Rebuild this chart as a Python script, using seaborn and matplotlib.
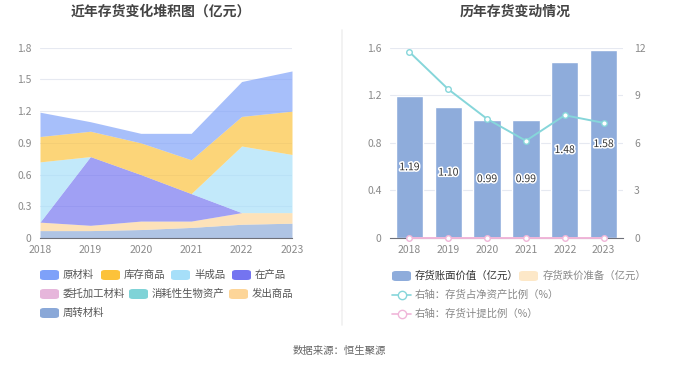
import numpy as np
import pandas as pd
import seaborn as sns
import matplotlib.pyplot as plt
from matplotlib.patches import FancyBboxPatch
from matplotlib.lines import Line2D
import matplotlib.patheffects as pe

sns.set_theme(style="white")
plt.rcParams['font.family'] = ['Noto Sans CJK SC', 'DejaVu Sans']

years = ['2018', '2019', '2020', '2021', '2022', '2023']

# 左图：存货构成（亿元）
yuancailiao = [0.23, 0.09, 0.09, 0.25, 0.33, 0.38]
kucun_shangpin = [0.24, 0.24, 0.30, 0.32, 0.28, 0.41]
banchengpin = [0.57, 0.0, 0.0, 0.0, 0.63, 0.55]
zaichanpin = [0.0, 0.65, 0.44, 0.26, 0.0, 0.0]
weituo_jiagong = [0.0, 0.0, 0.0, 0.0, 0.0, 0.0]
xiaohaoxing = [0.0, 0.0, 0.0, 0.0, 0.0, 0.0]
fachu_shangpin = [0.08, 0.05, 0.08, 0.06, 0.11, 0.10]
zhouzhuan_cailiao = [0.07, 0.07, 0.08, 0.10, 0.13, 0.14]

stack_names = ['原材料', '库存商品', '半成品', '在产品', '委托加工材料', '消耗性生物资产', '发出商品', '周转材料']
stack_colors = ['#7ea1f9', '#fcc23a', '#a6dff9', '#7474f0', '#e6b6db', '#7fd3d7', '#fdd598', '#8aa8d8']

# 右图
book_value = [1.19, 1.10, 0.99, 0.99, 1.48, 1.58]
provision = [0.0, 0.0, 0.0, 0.0, 0.0, 0.0]
ratio_net_assets = [11.73, 9.38, 7.51, 6.13, 7.74, 7.26]
provision_ratio = [0.0, 0.0, 0.0, 0.0, 0.0, 0.0]

tick_color = '#8a8a8a'
grid_color = '#e6e9f1'
axis_color = '#6e7079'

fig = plt.figure(figsize=(6.8, 3.67), dpi=100)

# ---------- 左图：堆积面积 ----------
ax1 = fig.add_axes([40 / 680, 1 - 238 / 367, 252 / 680, 190.3 / 367])
series = [yuancailiao, kucun_shangpin, banchengpin, zaichanpin,
          weituo_jiagong, xiaohaoxing, fachu_shangpin, zhouzhuan_cailiao]
x = np.arange(len(years))
ax1.stackplot(x, *series[::-1], colors=stack_colors[::-1], alpha=0.68, linewidth=0)
ax1.set_xlim(0, 5)
ax1.set_ylim(0, 1.8)
ax1.set_yticks([0, 0.3, 0.6, 0.9, 1.2, 1.5, 1.8])
ax1.set_yticklabels(['0', '0.3', '0.6', '0.9', '1.2', '1.5', '1.8'])
ax1.set_xticks(x)
ax1.set_xticklabels(years)
ax1.yaxis.grid(True, color=grid_color, linewidth=0.8)
ax1.set_axisbelow(True)

# ---------- 右图：柱状 + 折线 ----------
ax2 = fig.add_axes([390 / 680, 1 - 238 / 367, 233 / 680, 190.3 / 367])
df = pd.DataFrame({'year': years, 'book': book_value})
sns.barplot(data=df, x='year', y='book', color='#8eacdb', width=0.7,
            saturation=1, ax=ax2, zorder=2)
for i, v in enumerate(book_value):
    ax2.text(i, v / 2, f'{v:.2f}', ha='center', va='center', fontsize=7.5,
             color='#333333',
             path_effects=[pe.withStroke(linewidth=2.2, foreground='white')], zorder=5)
ax2.set_xlim(-0.5, 5.5)
ax2.set_ylim(0, 1.6)
ax2.set_yticks([0, 0.4, 0.8, 1.2, 1.6])
ax2.set_yticklabels(['0', '0.4', '0.8', '1.2', '1.6'])
ax2.set_xlabel('')
ax2.set_ylabel('')
ax2.yaxis.grid(True, color=grid_color, linewidth=0.8)
ax2.set_axisbelow(True)

ax3 = ax2.twinx()
ldf = pd.DataFrame({'x': x, 'r1': ratio_net_assets, 'r2': provision_ratio})
sns.lineplot(data=ldf, x='x', y='r1', ax=ax3, color='#86d6da', linewidth=1.4,
             marker='o', markersize=4, markerfacecolor='white',
             markeredgecolor='#86d6da', markeredgewidth=1)
sns.lineplot(data=ldf, x='x', y='r2', ax=ax3, color='#f0b6d9', linewidth=1.4,
             marker='o', markersize=4, markerfacecolor='white',
             markeredgecolor='#f0b6d9', markeredgewidth=1, clip_on=False)
ax3.set_xlim(-0.5, 5.5)
ax3.set_ylim(0, 12)
ax3.set_yticks([0, 3, 6, 9, 12])
ax3.set_yticklabels(['0', '3', '6', '9', '12'])
ax3.set_xlabel('')
ax3.set_ylabel('')

for ax in (ax1, ax2, ax3):
    for s in ax.spines.values():
        s.set_visible(False)
    ax.tick_params(axis='both', labelsize=7.5, labelcolor=tick_color, length=0, pad=6)
for ax in (ax1, ax2):
    ax.spines['bottom'].set_visible(True)
    ax.spines['bottom'].set_color(axis_color)
    ax.spines['bottom'].set_linewidth(0.8)
    ax.tick_params(axis='x', length=3, color=axis_color, pad=2, direction='out')
ax3.tick_params(axis='y', pad=8)

# ---------- 标题、分隔线、来源 ----------
fig.text(161 / 680, 1 - 12 / 367, '近年存货变化堆积图（亿元）', ha='center', va='center',
         fontsize=10, fontweight='bold', color='#444444')
fig.text(515 / 680, 1 - 12 / 367, '历年存货变动情况', ha='center', va='center',
         fontsize=10, fontweight='bold', color='#444444')
fig.add_artist(Line2D([342 / 680, 342 / 680], [1 - 30 / 367, 1 - 325 / 367],
                      color='#f0f0f0', linewidth=1.2))
fig.text(339 / 680, 1 - 351 / 367, '数据来源：恒生聚源', ha='center', va='center',
         fontsize=7.5, color='#666666')

# ---------- 图例 ----------
def patch(xp, yp, color):
    w, h = 19 / 680, 10 / 367
    fig.add_artist(FancyBboxPatch((xp / 680, 1 - yp / 367 - h / 2), w, h,
                                  boxstyle='round,pad=0,rounding_size=0.006',
                                  transform=fig.transFigure, facecolor=color,
                                  edgecolor='none'))

left_legend = [(40, 275), (101, 275), (171, 275), (232, 275),
               (40, 294), (129, 294), (229, 294), (40, 313)]
for (xp, yp), name, c in zip(left_legend, stack_names, stack_colors):
    patch(xp, yp, c)
    fig.text((xp + 23) / 680, 1 - yp / 367, name, ha='left', va='center',
             fontsize=7.5, color='#555555')

patch(392, 276, '#8eacdb')
fig.text(415 / 680, 1 - 276 / 367, '存货账面价值（亿元）', ha='left', va='center',
         fontsize=7.5, color='#333333')
patch(519, 276, '#fde8c8')
fig.text(543 / 680, 1 - 276 / 367, '存货跌价准备（亿元）', ha='left', va='center',
         fontsize=7.5, color='#888888')
for yp, c, name in [(295, '#86d6da', '右轴：存货占净资产比例（%）'),
                    (314, '#f0b6d9', '右轴：存货计提比例（%）')]:
    fig.add_artist(Line2D([392 / 680, 411 / 680], [1 - yp / 367, 1 - yp / 367],
                          color=c, linewidth=1.2))
    fig.add_artist(Line2D([401.5 / 680], [1 - yp / 367], marker='o', markersize=6,
                          markerfacecolor='white', markeredgecolor=c,
                          markeredgewidth=1, linestyle='none'))
    fig.text(415 / 680, 1 - yp / 367, name, ha='left', va='center',
             fontsize=7.5, color='#888888')

fig.savefig('out.png', dpi=100)
